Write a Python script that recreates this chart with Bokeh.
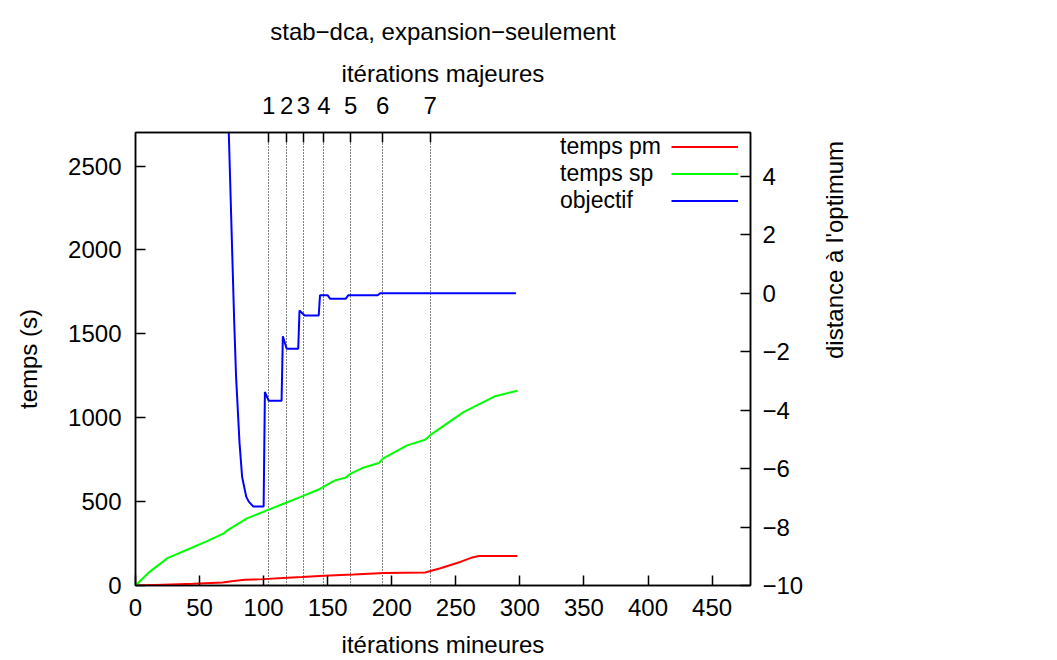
import math
from bokeh.plotting import figure
from bokeh.models import (LinearAxis, Range1d, FixedTicker, Grid, Legend, LegendItem)
from bokeh.embed import file_html
from bokeh.resources import INLINE

FONT = "Liberation Sans"
FS = "24px"
KEY_FS = "23px"

# ---------------- data ----------------
series_names = ["temps pm", "temps sp", "objectif"]
series_colors = ["#ff0000", "#00ff00", "#0000ff"]

pm_iter = [0, 22, 45, 68, 75, 85, 100, 115, 130, 147, 170, 194, 210, 226, 238, 254, 262, 268, 298]
pm_time = [0, 5, 10, 18, 26, 34, 38, 44, 50, 58, 65, 74, 76, 77, 103, 142, 165, 176, 176]

sp_iter = [0, 10, 25, 43, 55, 69, 72, 87, 103, 116, 129, 143, 152, 156, 164, 168, 177, 190, 193,
           212, 226, 230, 256, 280, 298]
sp_time = [0, 75, 163, 222, 262, 311, 330, 400, 449, 489, 528, 572, 612, 627, 643, 667, 700, 730, 756,
           835, 869, 896, 1033, 1126, 1161]

obj_iter = [70, 72.8, 77, 78.5, 81.2, 83.2, 86.4, 88.4, 92, 100, 101, 104, 114, 115, 118, 127, 128,
            132, 143, 144, 150, 152, 164, 166, 189, 191, 297]
obj_dist = [10.0, 5.5, -0.93, -2.86, -5.13, -6.28, -6.96, -7.13, -7.30, -7.30, -3.38, -3.68, -3.68,
            -1.47, -1.90, -1.90, -0.59, -0.76, -0.76, -0.07, -0.07, -0.19, -0.19, -0.07, -0.07, 0.0, 0.0]

major_iter = [104, 118, 131, 147, 168, 193, 230]
major_labels = ["1", "2", "3", "4", "5", "6", "7"]

x_ticks = [0, 50, 100, 150, 200, 250, 300, 350, 400, 450]
left_ticks = [0, 500, 1000, 1500, 2000, 2500]
right_ticks = [-10, -8, -6, -4, -2, 0, 2, 4]
right_labels = ["\u221210", "\u22128", "\u22126", "\u22124", "\u22122", "0", "2", "4"]

# ---------------- figure ----------------
p = figure(width=1041, height=660, x_range=Range1d(0, 480), y_range=Range1d(0, 2700),
           output_backend="svg", toolbar_location=None,
           x_axis_location=None, y_axis_location=None,
           min_border_left=135, min_border_right=291, min_border_top=132, min_border_bottom=74)
p.extra_y_ranges = {"dist": Range1d(-10, 5.5)}
for g in p.grid:
    g.visible = False
p.outline_line_color = "black"
p.outline_line_width = 1.5
p.background_fill_color = "white"
p.border_fill_color = "white"

p.title.text = "stab\u2212dca, expansion\u2212seulement"
p.title.align = "center"
p.title.text_font = FONT
p.title.text_font_size = FS
p.title.text_font_style = "normal"
p.title.text_color = "black"
p.title.standoff = 24


def style_axis(ax):
    ax.major_tick_in = 10
    ax.major_tick_out = 0
    ax.minor_tick_line_color = None
    ax.axis_line_color = "black"
    ax.axis_line_width = 1.5
    ax.major_tick_line_width = 1.5
    ax.major_tick_line_color = "black"
    ax.major_label_text_font = FONT
    ax.major_label_text_font_size = FS
    ax.major_label_text_color = "black"
    ax.axis_label_text_font = FONT
    ax.axis_label_text_font_size = FS
    ax.axis_label_text_font_style = "normal"
    ax.axis_label_text_color = "black"


bottom = LinearAxis(ticker=FixedTicker(ticks=x_ticks), axis_label="itérations mineures")
style_axis(bottom)
bottom.major_label_standoff = 13
bottom.axis_label_standoff = 12
p.add_layout(bottom, "below")

left = LinearAxis(ticker=FixedTicker(ticks=left_ticks), axis_label="temps (s)")
style_axis(left)
left.major_label_standoff = 14
left.axis_label_standoff = 23
p.add_layout(left, "left")

right = LinearAxis(ticker=FixedTicker(ticks=right_ticks), y_range_name="dist",
                   axis_label="distance à l'optimum",
                   major_label_overrides=dict(zip(right_ticks, right_labels)))
style_axis(right)
right.major_label_standoff = 12
right.axis_label_standoff = 28
right.axis_label_orientation = math.pi / 2
p.add_layout(right, "right")

top = LinearAxis(ticker=FixedTicker(ticks=major_iter), axis_label="itérations majeures",
                 major_label_overrides=dict(zip(major_iter, major_labels)))
style_axis(top)
top.major_label_standoff = 19
top.axis_label_standoff = 7
p.add_layout(top, "above")

vgrid = Grid(dimension=0, ticker=FixedTicker(ticks=major_iter), grid_line_color="black",
             grid_line_dash="1 2", grid_line_width=1)
p.add_layout(vgrid)

renderers = [
    p.line(pm_iter, pm_time, line_color=series_colors[0], line_width=2),
    p.line(sp_iter, sp_time, line_color=series_colors[1], line_width=2),
    p.line(obj_iter, obj_dist, line_color=series_colors[2], line_width=2, y_range_name="dist"),
]

# ---------------- key (gnuplot style: text left, sample right), inside the frame ----------------
common = dict(orientation="vertical", glyph_height=27, label_height=27,
              spacing=0, padding=0, margin=0, border_line_color=None,
              background_fill_alpha=0, label_text_font=FONT, label_text_color="black")

key_text = Legend(items=[LegendItem(label=n, renderers=[r]) for n, r in zip(series_names, renderers)],
                  location=(425, 371), glyph_width=0, label_standoff=0,
                  label_text_font_size=KEY_FS, **common)
p.add_layout(key_text)

key_lines = Legend(items=[LegendItem(label=" ", renderers=[r]) for r in renderers],
                   location=(536, 371), glyph_width=67, label_standoff=0, label_width=0,
                   label_text_font_size="1px", **common)
p.add_layout(key_lines)

open("out.html", "w").write(file_html(p, INLINE))
